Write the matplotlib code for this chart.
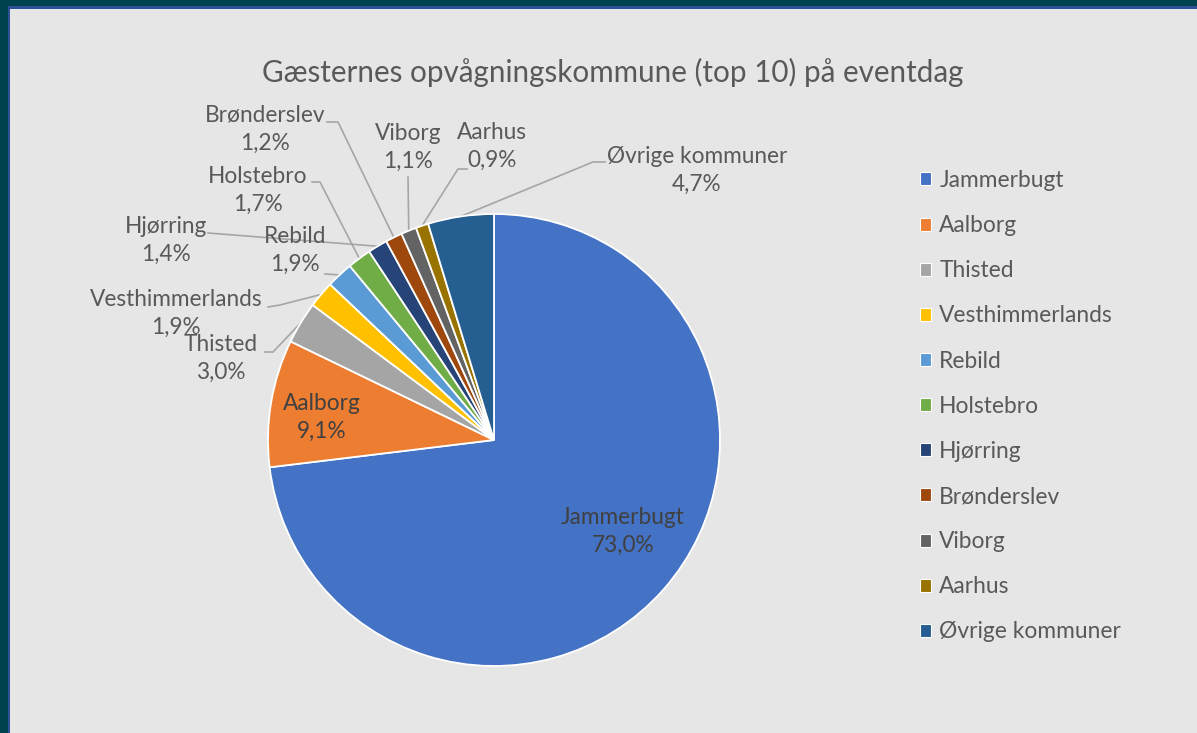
import numpy as np
import matplotlib.pyplot as plt
from matplotlib.patches import Rectangle, Patch

plt.rcParams['font.family'] = ['Lato', 'DejaVu Sans']

# Data
kommuner = ['Jammerbugt', 'Aalborg', 'Thisted', 'Vesthimmerlands', 'Rebild',
            'Holstebro', 'Hjørring', 'Brønderslev', 'Viborg', 'Aarhus',
            'Øvrige kommuner']
andel = [73.0, 9.1, 3.0, 1.9, 1.9, 1.7, 1.4, 1.2, 1.1, 0.9, 4.7]
farver = ['#4472C4', '#ED7D31', '#A5A5A5', '#FFC000', '#5B9BD5', '#70AD47',
          '#264478', '#9E480E', '#636363', '#997300', '#255E91']
titel = 'Gæsternes opvågningskommune (top 10) på eventdag'

W, H = 1197, 733
CX, CY, R = 494, 440, 226  # pie centre and radius in pixels


def px(x, y):
    # pixel position -> data coordinates
    return (x - CX) / R, (CY - y) / R


fig = plt.figure(figsize=(W / 100, H / 100), dpi=100)
fig.patch.set_facecolor('#e6e6e6')

# ramme
fig.patches.append(Rectangle((0, 0), 7.5 / W, 1, transform=fig.transFigure,
                             facecolor='#00434f', edgecolor='none'))
fig.patches.append(Rectangle((7.5 / W, 0), 2.5 / W, 1 - 8 / H, transform=fig.transFigure,
                             facecolor='#2f4f96', edgecolor='none'))
fig.patches.append(Rectangle((0, 1 - 6 / H), 1, 6 / H, transform=fig.transFigure,
                             facecolor='#00434f', edgecolor='none'))
fig.patches.append(Rectangle((7.5 / W, 1 - 8.5 / H), 1, 2.5 / H, transform=fig.transFigure,
                             facecolor='#2f4f96', edgecolor='none'))

ax = fig.add_axes([0, 0, 1, 1])
ax.set_facecolor('none')
wedges, _ = ax.pie(andel, colors=farver, startangle=90, counterclock=False,
                   radius=1, center=(0, 0),
                   wedgeprops=dict(edgecolor='white', linewidth=1.3))
ax.set_xlim(px(0, 0)[0], px(W, 0)[0])
ax.set_ylim(px(0, H)[1], px(0, 0)[1])
ax.set_aspect('equal')
ax.axis('off')


def pct(v):
    return f'{v:.1f}'.replace('.', ',') + '%'


# label placering (pixel) og ledelinjer
inde = {'Jammerbugt': (623, 531), 'Aalborg': (322, 417)}
ude = {
    'Thisted': ((221, 358), [(265, 352), (273, 352)]),
    'Vesthimmerlands': ((176, 313), [(268, 307), (280, 305)]),
    'Rebild': ((295, 250), [(325, 274)]),
    'Hjørring': ((166, 240), [(208, 233)]),
    'Holstebro': ((258, 190), [(312, 182), (320, 182)]),
    'Brønderslev': ((265, 129), [(327, 122), (338, 122)]),
    'Viborg': ((408, 147), [(408, 177)]),
    'Aarhus': ((492, 146), [(467, 169), (458, 169)]),
    'Øvrige kommuner': ((697, 170), [(605, 162), (593, 162)]),
}

fs = 16.3
for navn, v, w in zip(kommuner, andel, wedges):
    if navn in inde:
        x, y = px(*inde[navn])
        ax.text(x, y, f'{navn}\n{pct(v)}', ha='center', va='center',
                fontsize=fs, color='#404040', linespacing=1.4)
        continue
    (lx, ly), linje = ude[navn]
    mid = np.deg2rad((w.theta1 + w.theta2) / 2)
    pts = [px(*p) for p in linje] + [(np.cos(mid), np.sin(mid))]
    xs, ys = zip(*pts)
    ax.plot(xs, ys, color='#a6a6a6', lw=1.2, zorder=0.5)
    x, y = px(lx, ly)
    ax.text(x, y, f'{navn}\n{pct(v)}', ha='center', va='center',
            fontsize=fs, color='#595959', linespacing=1.4)

fig.text(613 / W, 1 - 72 / H, titel, ha='center', va='center',
         fontsize=21.3, color='#595959')

handles = [Patch(facecolor=c, edgecolor='white', linewidth=0.8) for c in farver]
ax.legend(handles, kommuner, loc='upper left', bbox_to_anchor=(920 / W, 1 - 170 / H),
          bbox_transform=fig.transFigure, frameon=False, fontsize=16.4,
          labelcolor='#595959', handlelength=0.5, handleheight=0.5,
          handletextpad=0.35, labelspacing=1.06, borderpad=0, borderaxespad=0)

fig.savefig('out.png', dpi=100, facecolor=fig.get_facecolor())
